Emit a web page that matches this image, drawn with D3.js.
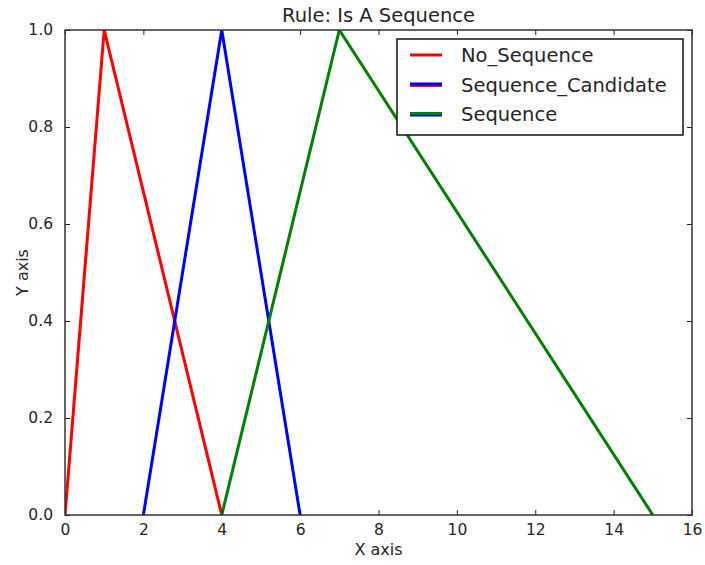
<!DOCTYPE html>
<html>
<head>
<meta charset="utf-8">
<script src="https://cdn.jsdelivr.net/npm/d3@7"></script>
<style>
  body { margin: 0; background: #fff; }
  text { font-family: "DejaVu Sans", sans-serif; fill: #262626; }
</style>
</head>
<body>
<div id="chart"></div>
<script>
// data
var seriesNames = ["No_Sequence", "Sequence_Candidate", "Sequence"];
var seriesColors = ["#ff0000", "#0000ff", "#008000"];
var noSequence = [[0, 0], [1, 1], [4, 0]];
var sequenceCandidate = [[2, 0], [4, 1], [6, 0]];
var sequence = [[4, 0], [7, 1], [15, 0]];
var xTicks = [0, 2, 4, 6, 8, 10, 12, 14, 16];
var yTicks = [0, 0.2, 0.4, 0.6, 0.8, 1.0];

var width = 705, height = 565;
var margin = {left: 65, top: 30, right: 13, bottom: 50};

var svg = d3.select("#chart").append("svg")
    .attr("width", width)
    .attr("height", height);

var xScale = d3.scaleLinear().domain([0, 16]).range([margin.left, width - margin.right]);
var yScale = d3.scaleLinear().domain([0, 1]).range([height - margin.bottom, margin.top]);

var line = d3.line()
    .x(function (d) { return xScale(d[0]); })
    .y(function (d) { return yScale(d[1]); });

// clip so lines don't spill over the frame
svg.append("clipPath").attr("id", "plotclip")
    .append("rect")
    .attr("x", xScale(0)).attr("y", yScale(1))
    .attr("width", xScale(16) - xScale(0))
    .attr("height", yScale(0) - yScale(1));

var lineG = svg.append("g").attr("clip-path", "url(#plotclip)");
[noSequence, sequenceCandidate, sequence].forEach(function (d, i) {
    lineG.append("path")
        .datum(d)
        .attr("d", line)
        .attr("fill", "none")
        .attr("stroke", seriesColors[i])
        .attr("stroke-width", 3)
        .attr("stroke-linejoin", "miter");
});

// axes, ticks pointing inward on all four sides
function draw(axis, translate) {
    var g = svg.append("g").attr("transform", translate).call(axis);
    g.select(".domain").remove();
    g.selectAll(".tick line").attr("stroke", "#222").attr("stroke-width", 1);
    return g;
}

var tickFmtY = d3.format(".1f");

var xb = draw(d3.axisBottom(xScale).tickValues(xTicks).tickSize(-5).tickPadding(9).tickFormat(d3.format("d")),
    "translate(0," + yScale(0) + ")");
xb.selectAll("text").style("font-size", "15.5px").style("font-family", "DejaVu Sans").attr("fill", "#262626");

draw(d3.axisTop(xScale).tickValues(xTicks).tickSize(-5).tickFormat(""),
    "translate(0," + yScale(1) + ")");

var yl = draw(d3.axisLeft(yScale).tickValues(yTicks).tickSize(-5).tickPadding(12).tickFormat(tickFmtY),
    "translate(" + xScale(0) + ",0)");
yl.selectAll("text").style("font-size", "15.5px").style("font-family", "DejaVu Sans").attr("fill", "#262626");

draw(d3.axisRight(yScale).tickValues(yTicks).tickSize(-5).tickFormat(""),
    "translate(" + xScale(16) + ",0)");

// frame
svg.append("rect")
    .attr("x", xScale(0)).attr("y", yScale(1))
    .attr("width", xScale(16) - xScale(0))
    .attr("height", yScale(0) - yScale(1))
    .attr("fill", "none")
    .attr("stroke", "#333")
    .attr("stroke-width", 1.5);

// title and axis labels
svg.append("text")
    .attr("x", (xScale(0) + xScale(16)) / 2)
    .attr("y", 22)
    .attr("text-anchor", "middle")
    .style("font-size", "19.5px")
    .text("Rule: Is A Sequence");

svg.append("text")
    .attr("x", (xScale(0) + xScale(16)) / 2)
    .attr("y", 555)
    .attr("text-anchor", "middle")
    .style("font-size", "16px")
    .text("X axis");

svg.append("text")
    .attr("transform", "translate(28," + (yScale(0) + yScale(1)) / 2 + ") rotate(-90)")
    .attr("text-anchor", "middle")
    .style("font-size", "16px")
    .text("Y axis");

// legend (swatches overlap like in the original render)
var legend = svg.append("g").attr("transform", "translate(397,39)");
legend.append("rect")
    .attr("width", 286).attr("height", 96)
    .attr("fill", "#fff")
    .attr("stroke", "#111")
    .attr("stroke-width", 1.5);

var swatchLayers = [
    [seriesColors[0]],
    [seriesColors[0], seriesColors[1]],
    [seriesColors[1], seriesColors[2]]
];
seriesNames.forEach(function (name, i) {
    var yy = 16 + i * 29.5;
    swatchLayers[i].forEach(function (c, k) {
        var off = swatchLayers[i].length > 1 ? (k === 0 ? 1 : -0.5) : 0;
        legend.append("line")
            .attr("x1", 13).attr("x2", 45)
            .attr("y1", yy + off).attr("y2", yy + off)
            .attr("stroke", c)
            .attr("stroke-width", 3);
    });
    legend.append("text")
        .attr("x", 64)
        .attr("y", yy + 7)
        .style("font-size", "19.5px")
        .text(name);
});
</script>
</body>
</html>
